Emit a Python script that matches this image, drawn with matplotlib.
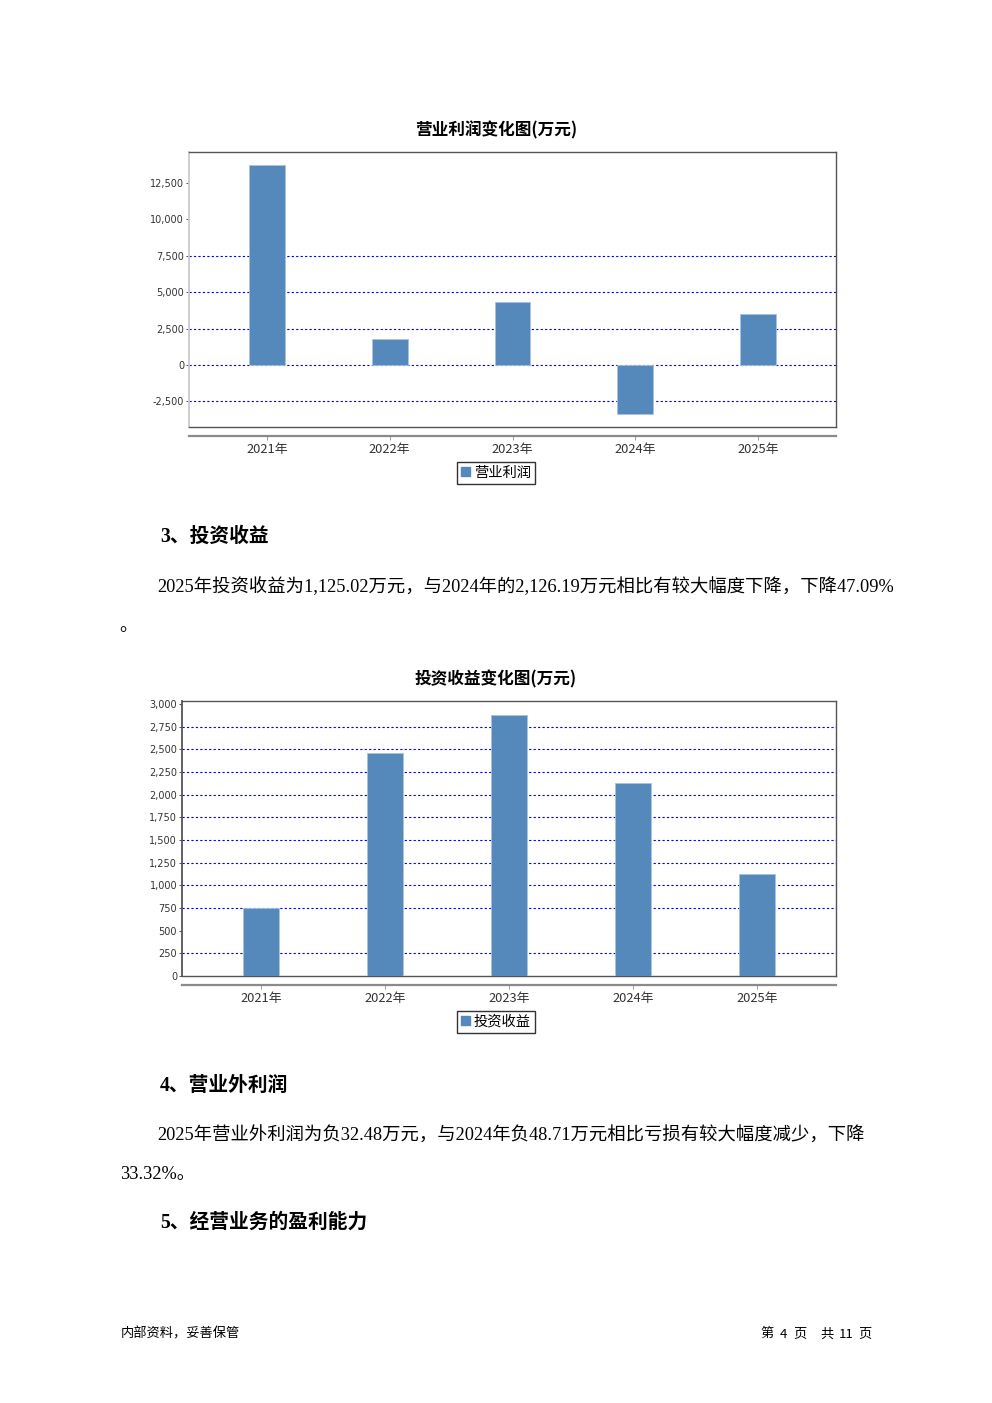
import matplotlib
matplotlib.use("Agg")
import matplotlib.pyplot as plt
from matplotlib.patches import Patch

W, H = 992, 1403

years = ["2021年", "2022年", "2023年", "2024年", "2025年"]
op_profit = [13760, 1790, 4350, -3350, 3520]
invest_income = [747, 2462, 2882, 2126.19, 1125.02]

op_ticks = [-2500, 0, 2500, 5000, 7500, 10000, 12500]
op_grid = [-2500, 0, 2500, 5000, 7500]
inv_ticks = [0, 250, 500, 750, 1000, 1250, 1500, 1750, 2000, 2250, 2500, 2750, 3000]
inv_grid = [250, 750, 1000, 1250, 1500, 1750, 2000, 2250, 2500, 2750]

BAR = "#5588bb"
CJK = ["Noto Sans CJK SC", "DejaVu Sans"]
SERIF_CJK = ["Liberation Serif", "Noto Sans CJK SC"]


def rect(x0, y0, x1, y1):
    # pixel box on the page -> figure fraction
    return [x0 / W, 1 - y1 / H, (x1 - x0) / W, (y1 - y0) / H]


def draw_chart(fig, box, values, ylim, ticks, grid, title, title_y, label, legend_y, left_col):
    ax = fig.add_axes(rect(*box))
    x = list(range(len(years)))
    ax.bar(x, values, width=0.29, color=BAR, edgecolor="#a9c4df", linewidth=0.6, zorder=3)
    ax.set_xlim(-0.635, len(years) - 1 + 0.635)
    ax.set_ylim(*ylim)
    ax.set_yticks(ticks, labels=[f"{t:,}" for t in ticks])
    ax.tick_params(axis="y", length=2, width=0.6, pad=1.5, labelsize=7, colors="#333333")
    ax.tick_params(axis="x", bottom=False, labelbottom=False)
    for g in grid:
        ax.axhline(g, color="#0000ee", linewidth=0.8, linestyle=(0, (2, 2)), zorder=1)
    for side in ("top", "right", "bottom"):
        ax.spines[side].set_color("#555555")
        ax.spines[side].set_linewidth(1.0)
    ax.spines["left"].set_color(left_col)
    ax.spines["left"].set_linewidth(1.3)

    # category axis sits a little below the plot frame
    off = -9 / (box[3] - box[1])
    sec = ax.secondary_xaxis(off)
    sec.set_xticks(x, labels=years)
    sec.spines["bottom"].set_color("#8a8a8a")
    sec.spines["bottom"].set_linewidth(1.6)
    sec.tick_params(length=3, width=0.6, color="#8a8a8a", pad=2, labelsize=9.3, labelcolor="#333333")
    for t in sec.get_xticklabels():
        t.set_family(CJK)

    fig.text(496 / W, 1 - title_y / H, title, ha="center", va="center",
             fontsize=12, fontweight="bold", family=CJK)
    leg = fig.legend(handles=[Patch(color=BAR)], labels=[label], loc="center",
                     bbox_to_anchor=(496 / W, 1 - legend_y / H), prop={"family": CJK, "size": 10.3},
                     frameon=True, fancybox=False, edgecolor="black", handlelength=0.6,
                     handleheight=0.6, handletextpad=0.3, borderpad=0.25, borderaxespad=0)
    leg.get_frame().set_linewidth(1.0)
    return ax


fig = plt.figure(figsize=(W / 100, H / 100), dpi=100)
fig.patch.set_facecolor("white")

draw_chart(fig, (189, 152, 836, 427), op_profit, (-4260, 14630), op_ticks, op_grid,
           "营业利润变化图(万元)", 130, "营业利润", 473, "#cccccc")
draw_chart(fig, (182, 701, 836, 976), invest_income, (0, 3033), inv_ticks, inv_grid,
           "投资收益变化图(万元)", 679, "投资收益", 1022, "#555555")

body = 13.2
head = 14.2


def put(x, y, s, size, bold=False, family=SERIF_CJK, ha="left"):
    fig.text(x / W, 1 - y / H, s, ha=ha, va="center", fontsize=size,
             fontweight="bold" if bold else "normal", family=family)


put(160, 537, "3、投资收益", head, bold=True)
put(157, 587, "2025年投资收益为1,125.02万元，与2024年的2,126.19万元相比有较大幅度下降，下降47.09%", body)
put(119, 627, "。", body)
put(160, 1086, "4、营业外利润", head, bold=True)
put(157, 1136, "2025年营业外利润为负32.48万元，与2024年负48.71万元相比亏损有较大幅度减少，下降", body)
put(120, 1175, "33.32%。", body)
put(160, 1223, "5、经营业务的盈利能力", head, bold=True)

foot = 9.5
put(121, 1334, "内部资料，妥善保管", foot, family=CJK)
# page counter pieces, spaced like the original footer
for px_, s in [(760, "第"), (780, "4"), (793, "页"), (820, "共"), (839, "11"), (858, "页")]:
    put(px_, 1334, s, foot, family=CJK)

fig.savefig("out.png", dpi=100)
